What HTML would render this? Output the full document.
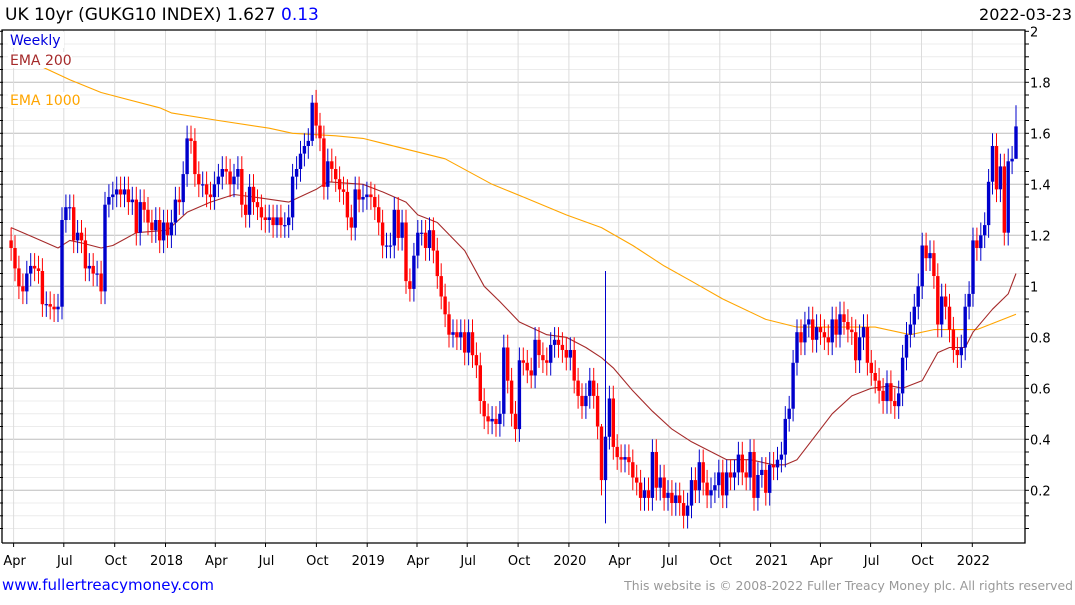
<!DOCTYPE html>
<html><head><meta charset="utf-8">
<style>
html,body{margin:0;padding:0;background:#fff;}
body{width:1075px;height:600px;overflow:hidden;font-family:"Liberation Sans","DejaVu Sans",sans-serif;}
svg text{font-family:"DejaVu Sans","Liberation Sans",sans-serif;}
</style></head>
<body>
<svg id="chart" width="1075" height="600" viewBox="0 0 1075 600" xmlns="http://www.w3.org/2000/svg">
  <g id="grid"></g>
  <g id="ema1000"></g>
  <g id="ema200"></g>
  <g id="candles"></g>
  <g id="axes"></g>
  <text x="5" y="20" font-size="17" fill="#000">UK 10yr (GUKG10 INDEX) 1.627 <tspan fill="#0000ff">0.13</tspan></text>
  <text x="1072" y="20" font-size="16" text-anchor="end" fill="#000">2022-03-23</text>
  <rect x="8" y="32" width="56" height="16" fill="#fff"/>
  <text x="10" y="45" font-size="14" fill="#0000dd">Weekly</text>
  <rect x="8" y="52" width="64" height="16" fill="#fff"/>
  <text x="10" y="65" font-size="14" fill="#a52a2a">EMA 200</text>
  <rect x="8" y="92" width="72" height="16" fill="#fff"/>
  <text x="10" y="105" font-size="14" fill="#ffa500">EMA 1000</text>
  <text x="2" y="590" font-size="15" fill="#0000ff">www.fullertreacymoney.com</text>
  <text x="1073" y="590" font-size="12.4" text-anchor="end" fill="#999">This website is © 2008-2022 Fuller Treacy Money plc. All rights reserved</text>
</svg>
<script>
const closes = [1.15,1.07,1.00,0.98,1.05,1.08,1.07,1.06,0.93,0.93,0.92,0.91,0.92,
1.26,1.31,1.31,1.18,1.21,1.18,1.07,1.08,1.05,1.05,0.98,1.32,1.35,
1.36,1.38,1.36,1.38,1.33,1.34,1.21,1.33,1.30,1.25,1.22,1.26,1.18,
1.25,1.20,1.25,1.34,1.33,1.44,1.58,1.57,1.44,1.40,1.40,1.36,
1.35,1.40,1.43,1.46,1.45,1.40,1.43,1.46,1.32,1.28,1.39,1.33,1.31,1.27,1.26,1.27,1.24,1.27,1.24,1.24,1.27,1.43,1.46,1.52,1.55,1.57,1.72,1.63,1.58,1.39,
1.49,1.46,1.42,1.38,1.37,1.27,1.23,1.38,1.34,1.35,
1.36,1.35,1.31,1.25,1.16,1.16,1.16,1.30,1.19,1.25,
1.02,0.99,1.12,1.21,1.21,1.15,1.22,1.14,1.04,0.96,
0.89,0.81,0.82,0.80,0.82,0.74,0.82,0.73,0.69,0.55,
0.49,0.47,0.48,0.46,0.50,0.76,0.63,0.50,0.44,0.71,
0.70,0.67,0.65,0.79,0.73,0.71,0.70,0.77,0.79,0.77,
0.75,0.72,0.75,0.63,0.57,0.53,0.57,0.63,0.57,0.45,
0.24,0.41,0.56,0.37,0.33,0.32,0.33,0.31,0.25,0.23,
0.17,0.20,0.17,0.35,0.21,0.25,0.17,0.19,0.15,0.18,0.15,
0.10,0.14,0.24,0.20,0.31,0.23,0.18,0.20,0.22,0.27,
0.18,0.27,0.25,0.27,0.34,0.27,0.25,0.35,0.17,0.26,
0.28,0.19,0.30,0.29,0.32,0.34,0.48,0.52,0.70,0.82,
0.78,0.85,0.87,0.79,0.84,0.82,0.80,0.78,0.87,0.81,
0.89,0.86,0.83,0.82,0.71,0.80,0.84,0.70,0.66,0.63,
0.59,0.55,0.62,0.55,0.53,0.58,0.72,0.81,0.85,0.92,
1.00,1.16,1.11,1.13,1.04,0.85,0.96,0.92,0.83,0.75,
0.73,0.76,0.92,0.97,1.18,1.15,1.20,1.24,1.41,1.55,
1.38,1.47,1.21,1.49,1.50,1.627];
const firstOpen = 1.18;
const wickPad = 0.05;
const spikeIdx = [77, 151, 152, 257];
const spikeHigh = [1.75, 0.46, 1.06, 1.71];
const spikeLow = [1.55, 0.18, 0.07, 1.50];
const ema200Week = [0,6,12,15,18,23,26,32,40,45,51,57,62,71,78,81,90,95,101,104,109,116,121,125,130,137,142,147,151,154,159,164,169,174,183,189,195,198,201,206,210,215,220,225,228,233,237,240,244,246,251,255,257];
const ema200Val = [1.23,1.19,1.15,1.18,1.17,1.15,1.16,1.21,1.22,1.29,1.33,1.36,1.35,1.33,1.38,1.41,1.40,1.37,1.33,1.28,1.25,1.14,1.00,0.94,0.86,0.81,0.80,0.76,0.72,0.68,0.59,0.51,0.44,0.39,0.32,0.32,0.30,0.30,0.32,0.42,0.50,0.57,0.60,0.61,0.60,0.63,0.74,0.76,0.76,0.82,0.91,0.97,1.05];
const ema1000Week = [0,8,15,23,38,41,53,66,72,83,90,111,123,131,142,151,159,167,174,182,193,201,221,230,236,247,257];
const ema1000Val = [1.90,1.86,1.81,1.76,1.70,1.68,1.65,1.62,1.60,1.59,1.58,1.50,1.40,1.35,1.28,1.23,1.16,1.08,1.02,0.95,0.87,0.84,0.84,0.81,0.83,0.83,0.89];
const yTicks = [0.2,0.4,0.6,0.8,1,1.2,1.4,1.6,1.8,2];
const yTickLabels = ["0.2","0.4","0.6","0.8","1","1.2","1.4","1.6","1.8","2"];
const xTickLabels = ["Apr","Jul","Oct","2018","Apr","Jul","Oct","2019","Apr","Jul","Oct","2020","Apr","Jul","Oct","2021","Apr","Jul","Oct","2022"];
const xTickYears = [2017.247,2017.496,2017.748,2018,2018.247,2018.496,2018.748,2019,2019.247,2019.496,2019.748,2020,2020.247,2020.496,2020.748,2021,2021.247,2021.496,2021.748,2022];

const NS = "http://www.w3.org/2000/svg";
const L = 2, R = 1025, T = 30, B = 543;
const N = closes.length;
const lastX = 1016, step = 3.91;
function xIdx(i){ return lastX - (N - 1 - i) * step; }
function xYear(t){ return 165.5 + (t - 2018) * 201.7; }
function yv(v){ return 541.3 - v * 255; }
function mk(tag, attrs, parent){
  const e = document.createElementNS(NS, tag);
  for (const k in attrs) e.setAttribute(k, attrs[k]);
  parent.appendChild(e);
  return e;
}
const grid = document.getElementById('grid');
for (let v = 0.05; v < 2.0; v += 0.05) {
  const major = Math.abs(v*5 - Math.round(v*5)) < 1e-6;
  const ln = mk('line', {x1:L, x2:R, y1:yv(v).toFixed(1), y2:yv(v).toFixed(1), stroke: major ? '#bdbdbd' : '#ececec', 'stroke-width': 1}, grid);
  
  
}
xTickYears.forEach((t) => {
  const x = xYear(t).toFixed(1);
  const ln = mk('line', {x1:x, x2:x, y1:T, y2:B, stroke:'#dcdcdc', 'stroke-width':1}, grid);
  
  
});
function drawLine(weeks, vals, color, gid){
  const g = document.getElementById(gid);
  const pts = weeks.map((w, k) => xIdx(w).toFixed(1) + ',' + yv(vals[k]).toFixed(1)).join(' ');
  const p = mk('polyline', {points: pts, fill:'none', stroke: color, 'stroke-width': 1.1, 'stroke-linejoin':'round'}, g);
  
  
}
drawLine(ema1000Week, ema1000Val, '#ffa500', 'ema1000');
drawLine(ema200Week, ema200Val, '#a52a2a', 'ema200');
const cg = document.getElementById('candles');
for (let i = 0; i < N; i++) {
  const o = i === 0 ? firstOpen : closes[i-1];
  const c = closes[i];
  let hi = Math.max(o, c) + wickPad, lo = Math.min(o, c) - wickPad;
  const si = spikeIdx.indexOf(i);
  if (si >= 0) { hi = spikeHigh[si]; lo = spikeLow[si]; }
  const up = c >= o;
  const col = up ? '#0000cc' : '#ff0000';
  const x = xIdx(i);
  const wk = mk('line', {x1:x.toFixed(1), x2:x.toFixed(1), y1:yv(hi).toFixed(1), y2:yv(lo).toFixed(1), stroke:col, 'stroke-width':1}, cg);
  
  
  const top = yv(Math.max(o, c)), h = Math.max(1.2, Math.abs(yv(o) - yv(c)));
  const bd = mk('rect', {x:(x-1.7).toFixed(1), y:top.toFixed(1), width:3.4, height:h.toFixed(1), fill:col}, cg);
  
  
}
const ax = document.getElementById('axes');
const frame = mk('path', {d:`M${L},${B} L${L},${T} L${R},${T} L${R},${B} L${L},${B}`, fill:'none', stroke:'#000', 'stroke-width':1.3}, ax);


for (let v = 0.05; v <= 2.001; v += 0.05) {
  const y = yv(v).toFixed(1);
  const t = mk('line', {x1:R, x2:R+4, y1:y, y2:y, stroke:'#000', 'stroke-width':1}, ax);
  
  
  const t2 = mk('line', {x1:L-2, x2:L+1, y1:y, y2:y, stroke:'#000', 'stroke-width':1}, ax);
  
  
}
yTicks.forEach((v, k) => {
  const tx = mk('text', {x:1030, y:(yv(v)+5).toFixed(1), 'font-size':13, fill:'#000'}, ax);
  tx.textContent = yTickLabels[k];
  
  
});
xTickYears.forEach((t, k) => {
  const x = xYear(t);
  const tk = mk('line', {x1:x.toFixed(1), x2:x.toFixed(1), y1:B, y2:B+4, stroke:'#000', 'stroke-width':1}, ax);
  
  
  const tx = mk('text', {x:(x+1).toFixed(1), y:565, 'font-size':13, 'text-anchor':'middle', fill:'#000'}, ax);
  tx.textContent = xTickLabels[k];
  
  
});
</script>
</body></html>
